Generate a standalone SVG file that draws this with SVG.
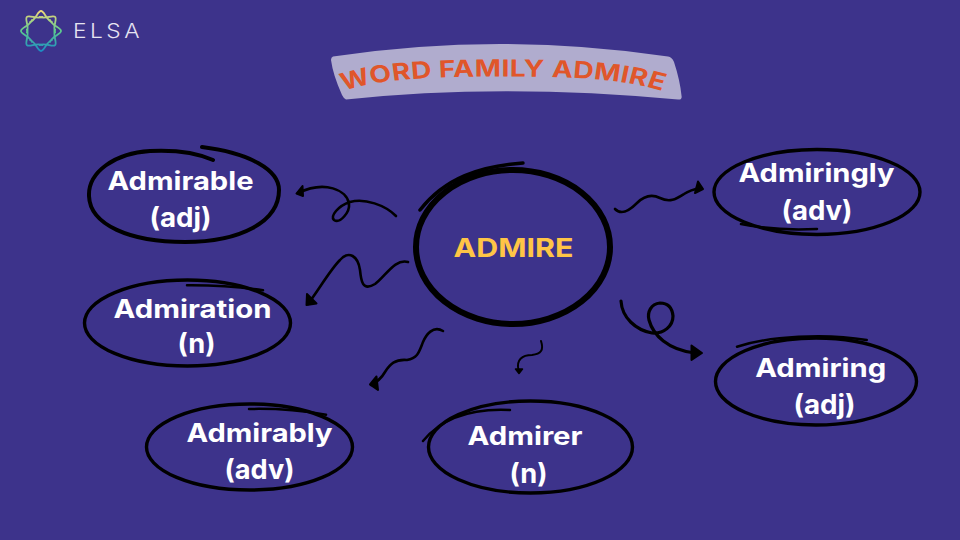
<svg xmlns="http://www.w3.org/2000/svg" width="960" height="540" viewBox="0 0 960 540">
<style>
.ring{fill:none;stroke:#000;stroke-width:3.400;stroke-linecap:round}
.thin{fill:none;stroke:#000;stroke-width:2.500;stroke-linecap:round}
.wire{fill:none;stroke:#000;stroke-width:2.600;stroke-linecap:round;stroke-linejoin:round}
.head{fill:#000;stroke:#000;stroke-width:2;stroke-linejoin:round}
.lbl{font-family:Inter,"Liberation Sans",sans-serif;font-weight:700;font-size:25.500px;fill:#fff}
.sub{font-size:27px}
</style>
<defs>
<linearGradient id="lg" gradientUnits="userSpaceOnUse" x1="0" y1="-20" x2="0" y2="20">
<stop offset="0" stop-color="#efd77a"/><stop offset="0.5" stop-color="#5ccb8e"/><stop offset="1" stop-color="#1c8cc4"/>
</linearGradient>
<path id="arc" d="M370 91C400 79 440 76.500 500 76.500C560 76.500 605 79 638 92"/>
</defs>
<rect width="960" height="540" fill="#3d338b"/>
<g id="logo">
<g transform="translate(41,31)" fill="none" stroke="url(#lg)" stroke-width="1.800" stroke-linecap="round" stroke-linejoin="round">
<path d="M-11 -9C-5 -11 -3.500 -20 0 -20C3.500 -20 5 -11 11 -9"/>
<path d="M9 -11C11 -5 20 -3.500 20 0C20 3.500 11 5 9 11"/>
<path d="M11 9C5 11 3.500 20 0 20C-3.500 20 -5 11 -11 9"/>
<path d="M-9 11C-11 5 -20 3.500 -20 0C-20 -3.500 -11 -5 -9 -11"/>
<path d="M-1.400 -14.100C4.200 -11.300 11.700 -16.600 14.100 -14.100C16.600 -11.700 11.300 -4.200 14.100 1.400"/>
<path d="M14.100 -1.400C11.300 4.200 16.600 11.700 14.100 14.100C11.700 16.600 4.200 11.300 -1.400 14.100"/>
<path d="M1.400 14.100C-4.200 11.300 -11.700 16.600 -14.100 14.100C-16.600 11.700 -11.300 4.200 -14.100 -1.400"/>
<path d="M-14.100 1.400C-11.300 -4.200 -16.600 -11.700 -14.100 -14.100C-11.700 -16.600 -4.200 -11.300 1.400 -14.100"/>
</g>
<text x="73" y="38" font-family="Inter,'Liberation Sans',sans-serif" font-weight="300" font-size="19.500" letter-spacing="3" fill="#e6e4f1" textLength="70" lengthAdjust="spacingAndGlyphs">ELSA</text>
</g>
<g id="title">
<path d="M333 56.500Q500 31.500 668 56.500Q672 57 674 62Q680 80 681.700 97Q681.500 100 678 99.500Q500 83 346 99.500Q344 99 342 95Q333 75 331 60Q331 57 333 56.500Z" fill="#b0acce"/>
<g transform="translate(500,0) scale(1.200,1) translate(-500,0)">
<text font-family="Inter,'Liberation Sans',sans-serif" font-weight="700" font-size="23.500" fill="#e0562a"><textPath href="#arc" textLength="268" lengthAdjust="spacing">WORD FAMILY ADMIRE</textPath></text>
</g>
</g>
<g id="connectors">
<path class="wire" d="M396 216C385 205 365 198 350 202C338 206 330 216 334 220C340 224 350 212 349 204C347 190 325 180 298 193"/>
<path class="head" d="M302.500 186L296.500 193.500L303 196Z"/>
<path class="wire" d="M408 262C395 258 385 277 375 284C362 292 361 280 360 270C358 256 349 250 340 260C330 270 320 288 308 304"/>
<path class="head" d="M307 294L306.500 305L316.500 303.500Z"/>
<path class="wire" d="M443 331C433 325 426 335 423 342C419 352 418 358 407 360C395 359 390 364 385 372C381 379 377 382 371 385"/>
<path class="head" d="M376.500 376.500L370 384.500L378 390Z"/>
<path class="wire" style="stroke-width:2" d="M541 341C544 350 541 354 532 355C522 355 516 360 518.500 370"/>
<path class="head" style="stroke-width:1.500" d="M515.500 369L519 373.500L522.500 369Z"/>
<path class="wire" d="M615 209C622 216 630 210 637 203C645 195 652 194 660 198C670 203 676 199 684 194C690 190 695 189 701 188"/>
<path class="head" d="M698 181.500L703 189L695 193Z"/>
<path class="wire" style="stroke-width:3.200" d="M621 301C622 318 636 330 652 333C664 334 673 326 673 316C672 306 666 303 660 303C651 304 647 312 649 320C653 335 668 350 695 353"/>
<path class="head" d="M691.500 345.500L702 353L691.500 360Z"/>
</g>
<g id="admire">
<ellipse cx="513" cy="247" rx="97" ry="77" fill="none" stroke="#000" stroke-width="6"/>
<path d="M420 210C445 178 480 166 523 163" fill="none" stroke="#000" stroke-width="3.500" stroke-linecap="round"/>
<text x="453.500" y="256.700" font-family="Inter,'Liberation Sans',sans-serif" font-weight="700" font-size="26" fill="#ffc546" textLength="120" lengthAdjust="spacingAndGlyphs">ADMIRE</text>
</g>
<g id="admirable">
<path class="ring" style="stroke-width:4" d="M213 160C195 152 170 150 150 151C115 153 88 172 89 196C90 225 130 242 185 242C240 242 279 222 279 190C279 170 250 153 202 147"/>
<text class="lbl" x="107.500" y="190" textLength="146" lengthAdjust="spacingAndGlyphs">Admirable</text>
<text class="lbl sub" x="149.500" y="227" textLength="62" lengthAdjust="spacingAndGlyphs">(adj)</text>
</g>
<g id="admiration">
<ellipse class="ring" cx="187.500" cy="323" rx="103" ry="43"/>
<path class="thin" d="M187 285.300Q227 285 263 290.300"/>
<text class="lbl" x="113.500" y="317.700" textLength="158" lengthAdjust="spacingAndGlyphs">Admiration</text>
<text class="lbl sub" x="177.500" y="353" textLength="38" lengthAdjust="spacingAndGlyphs">(n)</text>
</g>
<g id="admirably">
<ellipse class="ring" cx="249.500" cy="447" rx="103" ry="43"/>
<path class="thin" d="M249 409Q287 408 326 414.700"/>
<text class="lbl" x="186.500" y="441.700" textLength="146" lengthAdjust="spacingAndGlyphs">Admirably</text>
<text class="lbl sub" x="224.500" y="479.300" textLength="70" lengthAdjust="spacingAndGlyphs">(adv)</text>
</g>
<g id="admirer">
<ellipse class="ring" cx="530.500" cy="447" rx="102" ry="46"/>
<path class="thin" d="M423 441C442 418 470 408 510 410"/>
<text class="lbl" x="467.500" y="445" textLength="115" lengthAdjust="spacingAndGlyphs">Admirer</text>
<text class="lbl sub" x="509.500" y="483.300" textLength="38" lengthAdjust="spacingAndGlyphs">(n)</text>
</g>
<g id="admiringly">
<ellipse class="ring" cx="817" cy="192" rx="103" ry="42.500"/>
<path class="thin" d="M741 224Q775 231 817 229"/>
<text class="lbl" x="738.500" y="182.300" textLength="156" lengthAdjust="spacingAndGlyphs">Admiringly</text>
<text class="lbl sub" x="781.500" y="220.300" textLength="71" lengthAdjust="spacingAndGlyphs">(adv)</text>
</g>
<g id="admiring">
<ellipse class="ring" cx="816" cy="381.500" rx="100.500" ry="43.500"/>
<path class="thin" d="M737 346.700C770 336 825 333 866.700 340"/>
<text class="lbl" x="755.200" y="376.700" textLength="131" lengthAdjust="spacingAndGlyphs">Admiring</text>
<text class="lbl sub" x="793.500" y="413.600" textLength="62" lengthAdjust="spacingAndGlyphs">(adj)</text>
</g>
</svg>
